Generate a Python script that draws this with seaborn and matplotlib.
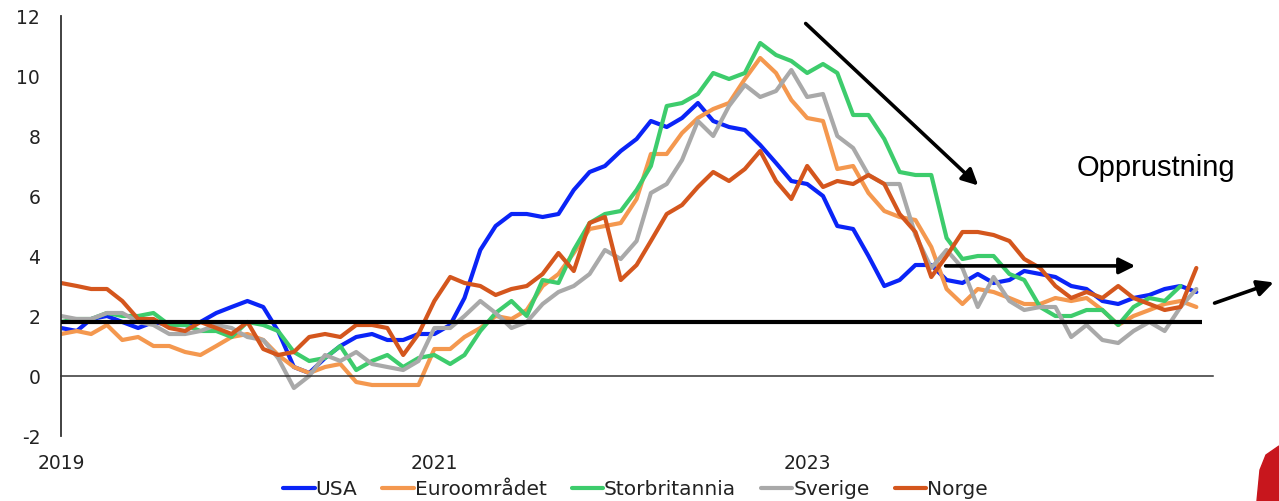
import pandas as pd
import matplotlib.pyplot as plt
from matplotlib.patches import Polygon
import seaborn as sns
import numpy as np

# monthly inflation, Jan 2019 - Feb 2025 (per cent, y/y)
start_month = '2019-01-01'

usa = [1.6, 1.5, 1.9, 2.0, 1.8, 1.6, 1.8, 1.7, 1.7, 1.8, 2.1, 2.3,
       2.5, 2.3, 1.5, 0.3, 0.1, 0.6, 1.0, 1.3, 1.4, 1.2, 1.2, 1.4,
       1.4, 1.7, 2.6, 4.2, 5.0, 5.4, 5.4, 5.3, 5.4, 6.2, 6.8, 7.0,
       7.5, 7.9, 8.5, 8.3, 8.6, 9.1, 8.5, 8.3, 8.2, 7.7, 7.1, 6.5,
       6.4, 6.0, 5.0, 4.9, 4.0, 3.0, 3.2, 3.7, 3.7, 3.2, 3.1, 3.4,
       3.1, 3.2, 3.5, 3.4, 3.3, 3.0, 2.9, 2.5, 2.4, 2.6, 2.7, 2.9,
       3.0, 2.8]

euro = [1.4, 1.5, 1.4, 1.7, 1.2, 1.3, 1.0, 1.0, 0.8, 0.7, 1.0, 1.3,
        1.4, 1.2, 0.7, 0.3, 0.1, 0.3, 0.4, -0.2, -0.3, -0.3, -0.3, -0.3,
        0.9, 0.9, 1.3, 1.6, 2.0, 1.9, 2.2, 3.0, 3.4, 4.1, 4.9, 5.0,
        5.1, 5.9, 7.4, 7.4, 8.1, 8.6, 8.9, 9.1, 9.9, 10.6, 10.1, 9.2,
        8.6, 8.5, 6.9, 7.0, 6.1, 5.5, 5.3, 5.2, 4.3, 2.9, 2.4, 2.9,
        2.8, 2.6, 2.4, 2.4, 2.6, 2.5, 2.6, 2.2, 1.7, 2.0, 2.2, 2.4,
        2.5, 2.3]

uk = [1.8, 1.9, 1.9, 2.1, 2.0, 2.0, 2.1, 1.7, 1.7, 1.5, 1.5, 1.3,
      1.8, 1.7, 1.5, 0.8, 0.5, 0.6, 1.0, 0.2, 0.5, 0.7, 0.3, 0.6,
      0.7, 0.4, 0.7, 1.5, 2.1, 2.5, 2.0, 3.2, 3.1, 4.2, 5.1, 5.4,
      5.5, 6.2, 7.0, 9.0, 9.1, 9.4, 10.1, 9.9, 10.1, 11.1, 10.7, 10.5,
      10.1, 10.4, 10.1, 8.7, 8.7, 7.9, 6.8, 6.7, 6.7, 4.6, 3.9, 4.0,
      4.0, 3.4, 3.2, 2.3, 2.0, 2.0, 2.2, 2.2, 1.7, 2.3, 2.6, 2.5,
      3.0, np.nan]

sweden = [2.0, 1.9, 1.9, 2.1, 2.1, 1.8, 1.7, 1.4, 1.4, 1.5, 1.7, 1.6,
          1.3, 1.2, 0.6, -0.4, 0.0, 0.7, 0.5, 0.8, 0.4, 0.3, 0.2, 0.5,
          1.6, 1.6, 2.0, 2.5, 2.1, 1.6, 1.8, 2.4, 2.8, 3.0, 3.4, 4.2,
          3.9, 4.5, 6.1, 6.4, 7.2, 8.5, 8.0, 9.0, 9.7, 9.3, 9.5, 10.2,
          9.3, 9.4, 8.0, 7.6, 6.7, 6.4, 6.4, 4.7, 3.6, 4.2, 3.6, 2.3,
          3.3, 2.5, 2.2, 2.3, 2.3, 1.3, 1.7, 1.2, 1.1, 1.5, 1.8, 1.5,
          2.3, 2.9]

norway = [3.1, 3.0, 2.9, 2.9, 2.5, 1.9, 1.9, 1.6, 1.5, 1.8, 1.6, 1.4,
          1.8, 0.9, 0.7, 0.8, 1.3, 1.4, 1.3, 1.7, 1.7, 1.6, 0.7, 1.4,
          2.5, 3.3, 3.1, 3.0, 2.7, 2.9, 3.0, 3.4, 4.1, 3.5, 5.1, 5.3,
          3.2, 3.7, 4.5, 5.4, 5.7, 6.3, 6.8, 6.5, 6.9, 7.5, 6.5, 5.9,
          7.0, 6.3, 6.5, 6.4, 6.7, 6.4, 5.4, 4.8, 3.3, 4.0, 4.8, 4.8,
          4.7, 4.5, 3.9, 3.6, 3.0, 2.6, 2.8, 2.6, 3.0, 2.6, 2.4, 2.2,
          2.3, 3.6]

series_names = ['USA', 'Euroområdet', 'Storbritannia', 'Sverige', 'Norge']
series_colors = ['#0a24f7', '#f4984f', '#3dcc6c', '#a9a9a9', '#d4561d']
target_level = 1.8
year_ticks = ['2019-01-01', '2021-01-01', '2023-01-01', '2025-01-01']
year_labels = ['2019', '2021', '2023', '']

dates = pd.date_range(start_month, periods=len(usa), freq='MS')
df = pd.DataFrame({'dato': dates, 'USA': usa, 'Euroområdet': euro,
                   'Storbritannia': uk, 'Sverige': sweden, 'Norge': norway})
long_df = df.melt(id_vars='dato', var_name='land', value_name='infl')

sns.set_theme(style='white')
plt.rcParams['font.family'] = ['DejaVu Sans']
plt.rcParams['axes.unicode_minus'] = False

fig = plt.figure(figsize=(12.79, 5.01), dpi=100)
ax = fig.add_axes([61 / 1279, 1 - 436 / 501, (1213 - 61) / 1279, 420 / 501])

sns.lineplot(data=long_df, x='dato', y='infl', hue='land', hue_order=series_names,
             palette=dict(zip(series_names, series_colors)), lw=3.0, ax=ax)

# target line
ax.hlines(target_level, dates[0], dates[-1] + pd.Timedelta(days=12),
          color='black', lw=3.0, zorder=5)

x0 = pd.Timestamp(start_month)
ax.set_xlim(x0, x0 + pd.Timedelta(days=74.1 * 30.44))
ax.set_ylim(-2, 12)
ax.set_yticks(range(-2, 13, 2))
ax.set_xticks(pd.to_datetime(year_ticks))
ax.set_xticklabels(year_labels)
ax.set_xlabel('')
ax.set_ylabel('')

for s in ['top', 'right']:
    ax.spines[s].set_visible(False)
ax.spines['bottom'].set_position(('data', 0))
ax.spines['bottom'].set_color('#333333')
ax.spines['bottom'].set_linewidth(1.1)
ax.spines['left'].set_color('#333333')
ax.spines['left'].set_linewidth(1.3)
ax.tick_params(axis='y', direction='in', length=6, width=1.2, color='#333333',
               pad=15, labelsize=13.5, labelcolor='#222222')
ax.tick_params(axis='x', direction='in', length=6, width=1.1, color='#333333',
               pad=56, labelsize=13.5, labelcolor='#222222')

# arrows and comment
arrow = dict(arrowstyle='-|>', lw=2.6, color='black', mutation_scale=24, shrinkA=0, shrinkB=0)


def month_x(m):
    return x0 + pd.Timedelta(days=m * 30.44)


ax.annotate('', xy=(month_x(59.0), 6.35), xytext=(month_x(47.9), 11.75),
            arrowprops=arrow, annotation_clip=False)
ax.annotate('', xy=(month_x(69.1), 3.67), xytext=(month_x(56.9), 3.67),
            arrowprops=arrow, annotation_clip=False)
ax.annotate('', xy=(month_x(78.0), 3.12), xytext=(month_x(74.2), 2.43),
            arrowprops=arrow, annotation_clip=False)
ax.text(month_x(65.3), 6.93, 'Opprustning', fontsize=21, family='Liberation Sans',
        va='center', ha='left', color='black')

handles, labels = ax.get_legend_handles_labels()
ax.get_legend().remove()
fig.legend(handles, labels, loc='center', bbox_to_anchor=(0.497, 0.022), ncol=5,
           frameon=False, fontsize=14.5, handlelength=1.55, handletextpad=0.05,
           columnspacing=1.25, labelcolor='#222222')

# red logo fragment in the corner
fig.patches.append(Polygon([(1257 / 1279, 0), (1260 / 1279, 1 - 470 / 501),
                            (1266 / 1279, 1 - 455 / 501), (1279 / 1279, 1 - 446 / 501),
                            (1279 / 1279, 0)], closed=True, transform=fig.transFigure,
                           color='#c8161d', zorder=10))

fig.savefig('out.png', dpi=100, facecolor='white')
